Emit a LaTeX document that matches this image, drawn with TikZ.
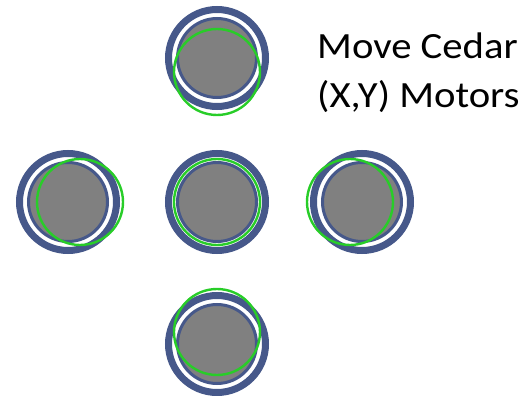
\documentclass[tikz,border=0pt]{standalone}
\usepackage{fontspec}
\setmainfont{Carlito}
\newfontfamily\labelfont[FakeStretch=1.1]{Carlito}
\usetikzlibrary{calc}
\definecolor{ringblue}{RGB}{70,88,138}
\definecolor{diskgray}{RGB}{128,128,128}
\definecolor{offgreen}{RGB}{40,205,40}
\tikzset{
  outerring/.style={draw=ringblue, line width=7pt, fill=white},
  innerdisk/.style={draw=ringblue, line width=3pt, fill=diskgray},
  greencircle/.style={draw=offgreen, line width=2.4pt},
}
% one motor unit: outer ring, gray disk, and the shifted green circle
\newcommand{\motorunit}[4]{%
  \coordinate (#1) at (#2);
  \draw[outerring] (#1) circle[radius=48.5];
  \draw[innerdisk] (#1) circle[radius=39.5];
  \draw[greencircle] ($(#1)+(#3)$) circle[radius=#4];
}
\begin{document}
\begin{tikzpicture}[x=1pt,y=-1pt]
  \useasboundingbox (0,0) rectangle (531,396);
  \motorunit{top}{217,58}{0,14}{43}
  \motorunit{mid}{217,202}{0,0}{43}
  \motorunit{left}{68,202}{12,0}{43}
  \motorunit{right}{362,202}{-12,0}{43}
  \motorunit{bottom}{217,344}{0,-12}{43}
  \node[anchor=base west, inner sep=0pt, font=\labelfont\fontsize{37}{50}\selectfont,
        align=left] (label) at (317,108) {Move Cedar\\(X,Y) Motors};
\end{tikzpicture}
\end{document}
